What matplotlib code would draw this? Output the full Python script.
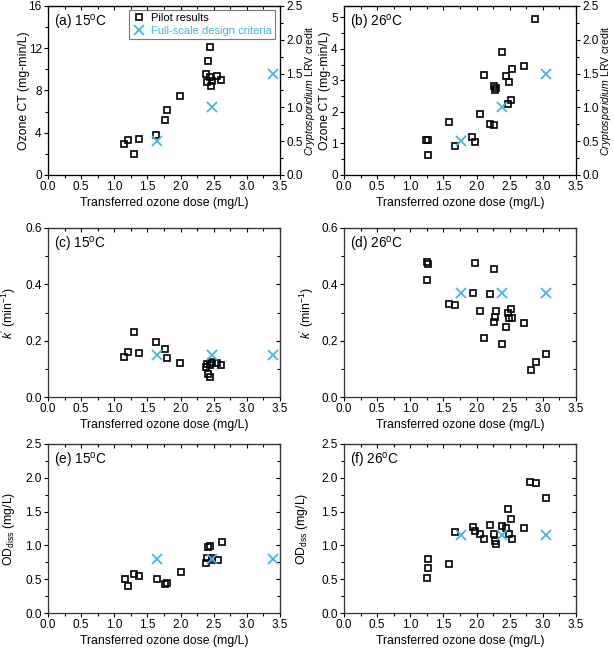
import matplotlib
matplotlib.use('Agg')
import matplotlib.pyplot as plt
from matplotlib.ticker import MultipleLocator, AutoMinorLocator

plt.rcParams['font.family'] = ['Liberation Sans', 'DejaVu Sans']
plt.rcParams['mathtext.fontset'] = 'custom'
plt.rcParams['mathtext.rm'] = 'Liberation Sans'
plt.rcParams['mathtext.it'] = 'Liberation Sans:italic'
plt.rcParams['font.size'] = 8.5

BLUE = '#45b5e8'

# ---- 15 C pilot data ----
dose15 = [1.15, 1.21, 1.29, 1.375, 1.63, 1.76, 1.79, 1.99, 2.38, 2.40, 2.41, 2.44, 2.45, 2.46, 2.48, 2.55, 2.61]
ct15 = [2.91, 3.35, 2.03, 3.42, 3.80, 5.16, 6.20, 7.44, 9.53, 8.77, 10.76, 12.09, 9.24, 8.42, 8.89, 9.40, 8.96]
dose15_k = [1.15, 1.20, 1.29, 1.375, 1.63, 1.76, 1.79, 1.99, 2.38, 2.40, 2.41, 2.44, 2.45, 2.46, 2.48, 2.55, 2.61]
k15 = [0.143, 0.159, 0.230, 0.156, 0.196, 0.170, 0.140, 0.120, 0.108, 0.118, 0.083, 0.070, 0.113, 0.124, 0.121, 0.120, 0.114]
dose15_od = [1.16, 1.21, 1.30, 1.38, 1.64, 1.76, 1.80, 2.00, 2.38, 2.40, 2.42, 2.45, 2.47, 2.48, 2.56, 2.62]
od15 = [0.504, 0.395, 0.583, 0.548, 0.504, 0.430, 0.445, 0.608, 0.741, 0.815, 0.978, 0.988, 0.82, 0.79, 0.78, 1.047]

# ---- 26 C pilot data ----
dose26_ct = [1.24, 1.26, 1.26, 1.59, 1.67, 1.93, 1.98, 2.05, 2.11, 2.21, 2.27, 2.27, 2.28, 2.29,
             2.38, 2.44, 2.49, 2.48, 2.52, 2.53, 2.71, 2.88]
ct26 = [1.12, 1.10, 0.625, 1.69, 0.93, 1.20, 1.06, 1.94, 3.18, 1.63, 1.57, 2.82, 2.71, 2.75,
        3.91, 3.14, 2.94, 2.26, 2.38, 3.37, 3.45, 4.95]
dose26_k = [1.25, 1.26, 1.25, 1.59, 1.68, 1.98, 1.94, 2.05, 2.11, 2.21, 2.27, 2.29, 2.28, 2.27,
            2.38, 2.45, 2.48, 2.49, 2.52, 2.54, 2.71, 2.82, 2.89, 3.05]
k26 = [0.478, 0.473, 0.417, 0.331, 0.328, 0.474, 0.371, 0.305, 0.211, 0.367, 0.455, 0.305, 0.283, 0.266,
       0.187, 0.250, 0.298, 0.279, 0.312, 0.282, 0.264, 0.096, 0.126, 0.151]
dose26_od = [1.25, 1.26, 1.26, 1.59, 1.68, 1.94, 1.98, 2.05, 2.11, 2.21, 2.27, 2.28, 2.29,
             2.38, 2.45, 2.48, 2.49, 2.52, 2.54, 2.71, 2.81, 2.89, 3.05]
od26 = [0.524, 0.667, 0.795, 0.731, 1.196, 1.270, 1.215, 1.166, 1.092, 1.309, 1.176, 1.067, 1.018,
        1.285, 1.255, 1.532, 1.171, 1.388, 1.102, 1.255, 1.937, 1.927, 1.70]

# ---- full-scale design criteria ----
design_dose15 = [1.65, 2.47, 3.39]
design_dose26 = [1.76, 2.39, 3.04]
design_lrv = [0.5, 1.0, 1.5]
design_k15 = [0.15, 0.15, 0.15]
design_k26 = [0.37, 0.37, 0.37]
design_od15 = [0.80, 0.80, 0.80]
design_od26 = [1.15, 1.15, 1.15]

xlabel = 'Transferred ozone dose (mg/L)'
lrv_label = r'$Cryptosporidium$ LRV credit'
k_label = r'$k^{\mathrm{’}}$ (min$^{-1}$)'

W, H = 614, 650
fig = plt.figure(figsize=(W / 100, H / 100), dpi=100)

lefts = [48, 344]
tops = [6, 228, 444]
aw, ah = 232, 169
LBL = 8.8


def make_ax(col, row):
    l = lefts[col] / W
    b = 1 - (tops[row] + ah) / H
    return fig.add_axes([l, b, aw / W, ah / H])


def style(ax, ymax, ymaj, right_twin=False):
    ax.set_xlim(0, 3.5)
    ax.set_ylim(0, ymax)
    ax.xaxis.set_major_locator(MultipleLocator(0.5))
    ax.xaxis.set_minor_locator(MultipleLocator(0.25))
    ax.yaxis.set_major_locator(MultipleLocator(ymaj))
    ax.yaxis.set_minor_locator(AutoMinorLocator(2))
    ax.xaxis.set_major_formatter(plt.FormatStrFormatter('%.1f'))
    ax.tick_params(which='major', direction='out', length=3, width=0.8, pad=1.5)
    ax.tick_params(which='minor', direction='out', length=2, width=0.8)
    for s in ax.spines.values():
        s.set_linewidth(0.9)
        s.set_color('#333333')
    # mirrored ticks on top (inward)
    top = ax.secondary_xaxis('top')
    top.xaxis.set_major_locator(MultipleLocator(0.5))
    top.xaxis.set_minor_locator(MultipleLocator(0.25))
    top.tick_params(which='both', direction='in', labeltop=False, length=3, width=0.8)
    top.tick_params(which='minor', length=2)
    if not right_twin:
        rt = ax.secondary_yaxis('right')
        rt.yaxis.set_major_locator(MultipleLocator(ymaj))
        rt.yaxis.set_minor_locator(AutoMinorLocator(2))
        rt.tick_params(which='both', direction='in', labelright=False, length=3, width=0.8)
        rt.tick_params(which='minor', length=2)
    ax.set_xlabel(xlabel, fontsize=LBL, labelpad=3)


def add_lrv(ax, doses):
    tw = ax.twinx()
    tw.set_ylim(0, 2.5)
    tw.yaxis.set_major_locator(MultipleLocator(0.5))
    tw.yaxis.set_minor_locator(AutoMinorLocator(2))
    tw.tick_params(which='major', direction='out', length=3, width=0.8, pad=1.5)
    tw.tick_params(which='minor', direction='out', length=2, width=0.8)
    p, = tw.plot(doses, design_lrv, label='Full-scale design criteria', **cx)
    tw.set_ylabel(lrv_label, fontsize=7.6)
    tw.yaxis.set_label_coords(1.098, 0.5)
    return p


def ylab(ax, txt, xpos):
    ax.set_ylabel(txt, fontsize=LBL)
    ax.yaxis.set_label_coords(xpos, 0.5)


def panel_label(ax, txt):
    ax.text(0.025, 0.96, txt, transform=ax.transAxes, fontsize=9.8, va='top', ha='left')


sq = dict(marker='s', ls='none', ms=4.6, mfc='none', mec='black', mew=1.2)
cx = dict(marker='x', ls='none', ms=7.5, color=BLUE, mew=1.3)

# (a)
ax = make_ax(0, 0)
style(ax, 16, 4, right_twin=True)
p1, = ax.plot(dose15, ct15, label='Pilot results', **sq)
ylab(ax, 'Ozone CT (mg-min/L)', -0.078)
p2 = add_lrv(ax, design_dose15)
leg = ax.legend(handles=[p1, p2], loc='upper right', bbox_to_anchor=(0.99, 0.99),
                fontsize=8, frameon=True, fancybox=False, edgecolor='#555555',
                handletextpad=0.5, borderpad=0.3, handlelength=1.2, labelspacing=0.25,
                borderaxespad=0.2)
leg.get_frame().set_linewidth(0.8)
leg.get_texts()[1].set_color(BLUE)
panel_label(ax, r'(a) 15$^\mathrm{o}$C')

# (b)
ax = make_ax(1, 0)
style(ax, 5.36, 1, right_twin=True)
ax.plot(dose26_ct, ct26, **sq)
ylab(ax, 'Ozone CT (mg-min/L)', -0.056)
add_lrv(ax, design_dose26)
panel_label(ax, r'(b) 26$^\mathrm{o}$C')

# (c)
ax = make_ax(0, 1)
style(ax, 0.6, 0.2)
ax.plot(dose15_k, k15, **sq)
ax.plot(design_dose15, design_k15, **cx)
ylab(ax, k_label, -0.128)
panel_label(ax, r'(c) 15$^\mathrm{o}$C')

# (d)
ax = make_ax(1, 1)
style(ax, 0.6, 0.2)
ax.plot(dose26_k, k26, **sq)
ax.plot(design_dose26, design_k26, **cx)
ylab(ax, k_label, -0.12)
panel_label(ax, r'(d) 26$^\mathrm{o}$C')

# (e)
ax = make_ax(0, 2)
style(ax, 2.5, 0.5)
ax.plot(dose15_od, od15, **sq)
ax.plot(design_dose15, design_od15, **cx)
ylab(ax, r'OD$_\mathrm{diss}$ (mg/L)', -0.135)
panel_label(ax, r'(e) 15$^\mathrm{o}$C')

# (f)
ax = make_ax(1, 2)
style(ax, 2.5, 0.5)
ax.plot(dose26_od, od26, **sq)
ax.plot(design_dose26, design_od26, **cx)
ylab(ax, r'OD$_\mathrm{dss}$ (mg/L)', -0.145)
panel_label(ax, r'(f) 26$^\mathrm{o}$C')

fig.savefig('out.png', dpi=100)
